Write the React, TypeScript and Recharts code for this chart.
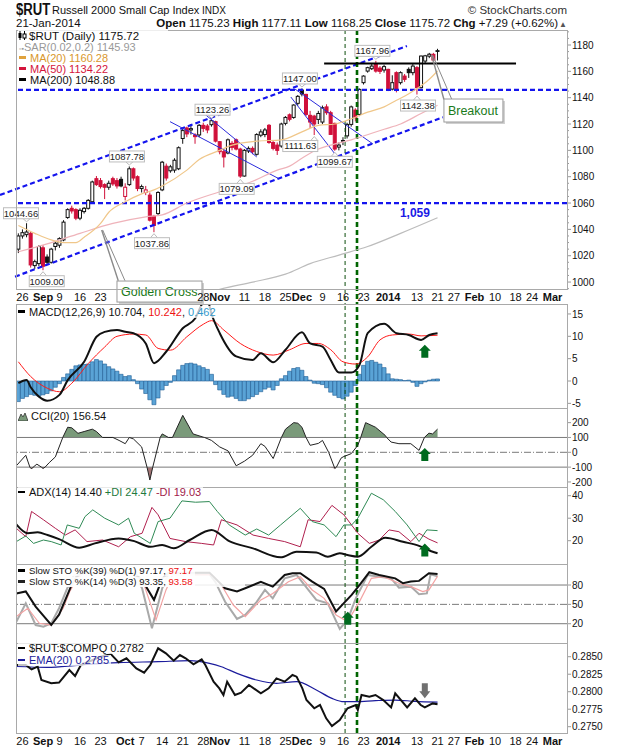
import React from 'react';
import {
  ComposedChart,
  Bar,
  Line,
  Area,
  XAxis,
  YAxis,
  ReferenceLine,
  ReferenceDot,
} from 'recharts';

const FONT = '"Liberation Sans", Arial, Helvetica, sans-serif';
const CHART_W = 620;
const PLOT_LEFT = 16;
const AXIS_W = 53;
const X_DOMAIN: [number, number] = [-1.58, 132.5];

// trading-day index: 0 = 26 Aug 2013 ... 101 = 21 Jan 2014
const firstIndex = -1;
const opens = [
  1025, 1035, 1036, 1037, 1012.5, 1014, 1026, 1019, 1015, 1027, 1028,
  1032, 1049, 1056, 1055, 1048.5, 1053.5, 1056, 1061, 1078.5, 1077,
  1074, 1072, 1078.5, 1077, 1078, 1065, 1074, 1086, 1080, 1071,
  1068, 1066, 1050, 1052, 1070, 1088, 1084.5, 1085, 1086, 1109,
  1117, 1115.5, 1111.7, 1111.7, 1119, 1118.5, 1119.5, 1121.8, 1106.6, 1099,
  1098, 1105.3, 1108, 1101, 1080.5, 1099.5, 1101.5, 1097, 1111.5, 1112,
  1119, 1106, 1104, 1103.3, 1120.5, 1127, 1125, 1135.7, 1145.8, 1142.5,
  1126.6, 1126, 1123.5, 1121.5, 1133, 1128.6, 1120.5, 1102.5, 1107.5, 1111,
  1119.7, 1130.6, 1127.3, 1151.4, 1160.2, 1162, 1165.3, 1162.5, 1161, 1161.5,
  1146.5, 1159, 1151.4, 1156.4, 1161.5, 1159, 1162.8, 1147.6, 1167.8, 1171.5,
  1172.9, 1175.23,
];
const highs = [
  1037, 1040, 1044.66, 1038, 1017, 1028, 1028, 1021, 1026, 1031, 1034,
  1047, 1056, 1058, 1056, 1056, 1057, 1063, 1077, 1080.5, 1079,
  1075, 1077, 1080, 1079, 1080, 1075, 1087.78, 1087, 1081, 1074,
  1073, 1068, 1051, 1069, 1092, 1090, 1089, 1094, 1103, 1117,
  1118, 1120, 1113, 1120, 1121, 1120, 1123.26, 1122.5, 1107, 1101,
  1109, 1107, 1109, 1102, 1101, 1103, 1103, 1113, 1116, 1117,
  1120, 1107, 1106, 1121, 1126, 1128, 1135, 1142, 1147, 1143,
  1130, 1127, 1130, 1134, 1135, 1130, 1121, 1106, 1110, 1121,
  1134, 1132, 1147, 1157, 1163.5, 1166, 1167.96, 1164, 1165, 1162,
  1157, 1160, 1160, 1158, 1163, 1166, 1164, 1172, 1172.5, 1174,
  1174, 1177.11,
];
const lows = [
  1022, 1033, 1034, 1011, 1010, 1012, 1009, 1013, 1014, 1024, 1026,
  1031, 1048, 1052, 1047, 1047, 1052, 1055, 1060, 1073, 1071,
  1063, 1070, 1073, 1071, 1072, 1062, 1073, 1077, 1069, 1068,
  1066, 1046, 1037.86, 1051, 1069, 1077, 1083, 1083, 1085, 1105,
  1110, 1112, 1105, 1110, 1114, 1113, 1118, 1106, 1097, 1087,
  1097, 1100, 1100, 1079.09, 1080, 1098, 1097, 1096, 1110, 1110,
  1105, 1100, 1096.5, 1102, 1119, 1122, 1124, 1134, 1141, 1126,
  1117, 1111.63, 1120, 1120, 1127, 1112, 1099.67, 1100, 1104, 1109,
  1118, 1122, 1126, 1150, 1159, 1161, 1159, 1158, 1159, 1145,
  1145.5, 1144, 1150, 1152, 1155, 1157, 1142.38, 1147, 1166, 1170,
  1166, 1168.25,
];
const closes = [
  1035, 1037.5, 1038, 1013, 1015.5, 1027, 1012, 1015, 1025, 1029.5, 1033,
  1045.5, 1055, 1054, 1048.5, 1054.5, 1056, 1062, 1076, 1074, 1072.5,
  1072, 1075, 1074.5, 1073, 1073, 1072, 1086, 1079, 1071, 1072.5,
  1070, 1047, 1043, 1068, 1091, 1079, 1087.5, 1092.5, 1102, 1115,
  1112.5, 1116.5, 1110.4, 1119, 1116.7, 1115.5, 1122.5, 1107, 1099, 1095,
  1108, 1102.3, 1101, 1080.5, 1100, 1101.5, 1099, 1112, 1114, 1115.5,
  1106, 1101.5, 1100, 1120, 1125, 1123.6, 1134.4, 1141, 1142.8, 1127.3,
  1121.5, 1120, 1128, 1132.4, 1128.6, 1112.1, 1101, 1104, 1107, 1119.7,
  1133, 1124.8, 1146.3, 1156.4, 1162.8, 1164, 1160.2, 1160, 1163.6, 1146.3,
  1151.4, 1146.3, 1159, 1153.9, 1159, 1164, 1147.6, 1171.6, 1171.8, 1173,
  1168.6, 1175.72,
];

const ma20Points: [number, number][] = [
  [-1, 1043], [3, 1037], [7, 1032], [10, 1030], [13, 1030], [15, 1034], [19, 1044.5],
  [21, 1053], [25, 1061], [29, 1067], [32, 1070], [34, 1073], [40, 1085], [43, 1093],
  [48, 1100], [51, 1104], [57, 1107], [63, 1108], [68, 1114], [72, 1119], [76, 1120],
  [80, 1124], [84, 1129], [88, 1133], [91, 1138], [94, 1143], [97, 1149], [99, 1154],
  [101, 1160.28],
];
const ma50Points: [number, number][] = [
  [-1, 1023], [6, 1029], [14, 1037], [22, 1044.5], [30, 1049.5], [34, 1051], [40, 1060],
  [48, 1068.6], [56, 1076.5], [62, 1085], [65, 1088], [68, 1094], [72, 1101], [75, 1104],
  [80, 1108], [85, 1113], [88, 1116], [92, 1120], [97, 1128], [101, 1134.22],
];
const ma200Points: [number, number][] = [
  [44, 991], [48, 994.5], [56, 1000], [64, 1006], [70, 1014], [77, 1020.5], [84, 1027],
  [92, 1037], [101, 1048.88],
];

const macdHist = [
  -4.6, -3.9, -3.5, -3.0, -3.2, -3.4, -3.1, -2.8, -2.2, -1.4, -0.6,
  0.8, 1.6, 2.6, 3.4, 3.6, 3.7, 3.8, 4.3, 4.8, 4.5,
  3.8, 3.2, 2.7, 2.2, 1.5, 1.0, 1.2, 0.3, -0.6, -1.8,
  -2.8, -4.2, -5.3, -3.8, -2.0, -1.0, -0.3, 1.2, 2.5, 3.5,
  3.9, 4.0, 3.8, 3.4, 3.0, 2.6, 1.5, -0.8, -2.0, -3.0,
  -3.6, -3.4, -3.9, -4.4, -4.4, -4.0, -3.5, -3.0, -2.4, -1.8,
  -1.4, -2.0, -1.0, 0.5, 1.2, 2.2, 2.8, 3.0, 2.4, 1.0,
  0.2, -0.5, -0.6, -0.8, -1.5, -2.5, -3.2, -3.7, -4.0, -3.4,
  -2.5, -1.0, 1.5, 3.5, 4.4, 4.6, 4.2, 3.8, 3.0, 1.6,
  0.5, 0.4, 0.3, 0.1, 0.2, -0.3, -1.2, -0.6, -0.2, 0.2,
  0.4, 0.462,
];
const macdPoints: [number, number][] = [
  [-1, -0.5], [1, 0.2], [2, -1.4], [4, -3.5], [6, -4.4], [9, -3.1], [11, 0.2], [15, 4.3],
  [18, 9.9], [20, 11.0], [23, 11.4], [25, 11.0], [27, 10.7], [30, 8.4], [32, 4.0], [35, 6.6],
  [39, 11.8], [42, 14.0], [44, 17.6], [45, 18.0], [46, 15.0], [48, 10.7], [52, 5.5], [56, 4.7],
  [58, 6.2], [61, 4.2], [64, 7.0], [68, 10.9], [70, 8.4], [73, 7.7], [75, 4.7], [77, 1.9],
  [80, 1.9], [82, 3.6], [84, 10.7], [88, 12.8], [91, 10.7], [94, 10.3], [97, 9.2], [99, 10.3],
  [101, 10.704],
];
const signalPoints: [number, number][] = [
  [-1, 4.3], [2, 1.0], [6, -1.6], [9, -2.4], [12, -0.5], [16, 3.9], [20, 7.6], [23, 10.0],
  [27, 10.5], [30, 10.3], [33, 7.3], [36, 6.9], [40, 9.9], [44, 12.7], [46, 13.5], [49, 11.4],
  [53, 8.4], [57, 6.6], [61, 5.8], [65, 7.0], [69, 8.4], [72, 8.4], [75, 7.0], [78, 4.3],
  [81, 3.8], [84, 5.4], [87, 9.2], [90, 10.3], [94, 10.5], [97, 10.1], [101, 10.242],
];

const cciPoints: [number, number][] = [
  [-1.5, -91], [0.8, -20], [1.8, -100], [2.2, -112], [2.6, -100], [3.5, -80], [4.6, -100],
  [5, -109], [5.5, -100], [6.5, -70], [8, -31], [9.8, 100], [11, 169], [12, 165], [13.5, 128],
  [15, 140], [17, 156], [18, 140], [19.5, 100], [22, 100], [23.5, 80], [25, 58], [26, 100],
  [27, 90], [29, 36], [30.3, -100], [31, -187], [31.7, -100], [33.5, 100], [34, 124],
  [35.5, 100], [36.5, 100], [39, 249], [41.5, 124], [44, 102], [44.3, 100], [46, 80], [48, 36],
  [50, 10], [52, -91], [54, -60], [56, -20], [58, 58], [59, 40], [61, -42], [63, 100],
  [64, 156], [66, 200], [67, 196], [68, 169], [69, 100], [70, 47], [72, 60], [73, 80],
  [74.5, 0], [76, -109], [76.4, -100], [77.5, -40], [78, -31], [80, -9], [81.6, 47],
  [82.3, 100], [83.5, 200], [85.9, 169], [88.3, 113], [88.6, 100], [89.7, 69], [91.6, 58],
  [94.5, 58], [96.5, 13], [97.8, 100], [98.9, 129], [99.8, 124], [101, 156.54],
];

const adxPoints: [number, number][] = [
  [-1.5, 27.3], [1.3, 23.3], [3.7, 23.7], [6.1, 22.5], [8.9, 20.7], [13.8, 16.9], [17.6, 18.8],
  [23.4, 21], [27.2, 19.8], [31.1, 17.3], [34, 18.1], [36.8, 16.6], [40.7, 20.3], [46, 24.8],
  [50.3, 19.8], [56.1, 16.6], [62.8, 12.6], [66.7, 15.1], [71.5, 14.8], [74.3, 12.9],
  [77.2, 14.4], [79.1, 13.6], [81.6, 12.9], [84.9, 17.3], [88.3, 21.3], [92.6, 19.5],
  [96.5, 17.7], [99.3, 15.4], [101, 14.4],
];
const plusDiPoints: [number, number][] = [
  [-1.5, 19.6], [0.8, 22.1], [2.7, 18.8], [5.1, 20.3], [7, 19.6], [9.4, 18.1], [10.9, 27],
  [13.8, 25.5], [15.2, 30.7], [17.1, 33.7], [20, 30], [23.4, 27], [25.8, 30], [27.2, 23.3],
  [31.1, 18.8], [33, 28.5], [35.9, 30], [38.8, 37.7], [42.1, 37.1], [45.5, 37.4], [47.4, 33],
  [50.3, 27], [54.2, 22.5], [57, 25.2], [59.9, 22.5], [62.8, 27], [67.6, 34.4], [70.5, 28.5],
  [73.4, 27], [76.3, 21.8], [78.2, 27], [80.1, 27], [81.6, 30], [84.9, 41.1], [87.8, 38.2],
  [90.7, 33], [93.6, 27], [96.5, 19.6], [98.4, 24.8], [101, 24.47],
];
const minusDiPoints: [number, number][] = [
  [-1.5, 25.5], [0.8, 21.8], [2.2, 33], [5.1, 29.3], [8, 25.5], [10.4, 22.5], [12.8, 24.8],
  [15.7, 19.6], [19.5, 20.3], [23.4, 17.3], [26.3, 21.8], [29.1, 23.3], [31.5, 34.8], [33, 31.5],
  [35.9, 21], [39.7, 19.6], [43.6, 18.8], [46.5, 18.1], [48.4, 29.3], [52.2, 27], [56.1, 22.5],
  [59.9, 21], [63.8, 19.6], [67.6, 17.3], [69.5, 29.3], [72.4, 28.5], [75.3, 35.7], [78.2, 31.5],
  [81.6, 23.3], [84.4, 18.8], [86.8, 20.3], [89.2, 24.8], [91.6, 24], [94.5, 19.6], [96.5, 23.3],
  [98.9, 20.7], [101, 19.03],
];

const stoK39Points: [number, number][] = [
  [-1.5, 67], [0.8, 70], [3.2, 46.5], [7, 18], [8.9, 34], [11.8, 78], [13, 92], [14.5, 99],
  [27, 99], [29.1, 88], [32, 57], [34, 90], [35.5, 99], [45.5, 99], [46.5, 93], [49.3, 75],
  [52.2, 70], [54.2, 75], [58, 85], [60.9, 77.5], [63.8, 95.6], [65.7, 98.2], [67.6, 98.2],
  [70.5, 85.3], [73.4, 74], [76.3, 39], [78.2, 52], [80.1, 64.6], [82, 80], [84.4, 99.8],
  [86.8, 95.6], [90.7, 90.4], [92.6, 82.7], [94.5, 85.3], [96.5, 86.4], [98.9, 98.2],
  [101, 97.17],
];
const stoK14Points: [number, number][] = [
  [-1.5, 23], [0.8, 51.5], [3.2, 18], [5.1, 15.5], [7, 20.7], [8.9, 44], [10.9, 75],
  [12.5, 95], [14, 99], [27, 98], [29.1, 75], [31.5, 13], [34, 75], [35.5, 97], [45.5, 97],
  [46.9, 85], [49.3, 54], [52.2, 27.4], [54.2, 33.6], [57, 54], [59, 72.4], [60.9, 59.4],
  [63.8, 90.4], [66.7, 95.6], [68.6, 80.2], [71.5, 57], [74.3, 51.7], [77.2, 12], [79.1, 25.8],
  [81.1, 59.4], [84, 95.6], [86.8, 93], [89.7, 90.4], [91.6, 76], [94.5, 77.5], [96.5, 65.6],
  [98.4, 67], [99.3, 96.6], [101, 93.35],
];
const stoD3Points: [number, number][] = [
  [-1.5, 31], [1.3, 44], [4.1, 20.7], [7, 18], [9.9, 44], [11.5, 70], [13.5, 92], [15, 98],
  [27, 97], [29.6, 80], [32.5, 26], [34.9, 72], [36.5, 95], [46, 96], [48.4, 80], [51.3, 49],
  [54.2, 31], [58, 57], [60.9, 67], [64.7, 85], [67.6, 93], [70.5, 72.4], [73.4, 59.4],
  [76.3, 33.6], [79.1, 23.3], [82, 54.3], [84.9, 90.4], [87.8, 93], [91.6, 82.7], [94.5, 77.5],
  [97.4, 69.7], [98.9, 72.4], [101, 93.58],
];

const ratioPoints: [number, number][] = [
  [-1.5, 0.2838], [0.8, 0.28381], [2.2, 0.2832], [3.7, 0.28358], [4.6, 0.28167], [7, 0.2812],
  [8.9, 0.2813], [11.4, 0.2831], [12.8, 0.28224], [14.2, 0.28381], [17.1, 0.28453], [19, 0.285],
  [21.5, 0.28538], [23.4, 0.28419], [25.3, 0.28477], [27.7, 0.28334], [29.6, 0.28272],
  [31.1, 0.28381], [33, 0.2862], [34.9, 0.28548], [36.8, 0.28443], [38.3, 0.28524],
  [39.7, 0.28477], [41.6, 0.28391], [43.6, 0.28462], [44.5, 0.28381], [46.5, 0.28143],
  [47.9, 0.28048], [48.9, 0.27953], [49.8, 0.28143], [51.7, 0.27953], [53.2, 0.27986],
  [55.1, 0.28096], [58, 0.27976], [59.9, 0.28048], [61.8, 0.28191], [63.8, 0.28143],
  [65.7, 0.28239], [66.7, 0.28215], [68.1, 0.28048], [69.1, 0.27881], [71, 0.27763],
  [72.4, 0.2781], [73.9, 0.2762], [75.3, 0.2751], [77.2, 0.27596], [79.1, 0.27763],
  [81.1, 0.2781], [81.6, 0.27739], [82.5, 0.27953], [84.4, 0.27929], [85.9, 0.27953],
  [87.8, 0.27881], [89.7, 0.27776], [90.7, 0.27976], [93.6, 0.27776], [95.5, 0.27905],
  [96.9, 0.2781], [97.9, 0.27776], [99.8, 0.27833], [101, 0.2782],
];
const ratioEmaPoints: [number, number][] = [
  [-1.5, 0.2836], [6.1, 0.28348], [13.8, 0.28381], [23.4, 0.28415], [33, 0.28429],
  [40.7, 0.28443], [45.5, 0.28405], [48.4, 0.28357], [52.2, 0.28262], [57, 0.28167],
  [61.8, 0.2812], [66.7, 0.28143], [71.5, 0.28024], [75.3, 0.27905], [78.2, 0.27857],
  [81.1, 0.27857], [85.9, 0.27872], [90.7, 0.27881], [95.5, 0.27862], [101, 0.2785],
];

const xTickIdx = [0, 5, 9, 14, 19, 25, 29, 34, 39, 44, 48, 54, 59, 64, 68, 73, 78, 83, 89, 96, 101, 105, 110, 115, 120, 124, 129];
const xTickText = ['26', 'Sep', '9', '16', '23', 'Oct', '7', '14', '21', '28', 'Nov', '11', '18', '25', 'Dec', '9', '16', '23', '2014', '13', '21', '27', 'Feb', '10', '18', '24', 'Mar'];
const xTickBold = ['Sep', 'Oct', 'Nov', 'Dec', '2014', 'Feb', 'Mar'];
const mainHiddenTicks = [25, 29, 34, 39];

const priceLabelTicks = [1000, 1020, 1040, 1060, 1080, 1100, 1120, 1140, 1160, 1180];
const priceMinorTicks = Array.from({ length: 40 }, (_, k) => 995 + k * 5);
const macdTicks = [-5, 0, 5, 10, 15];
const cciTicks = [-200, -100, 0, 100, 200];
const adxTicks = [20, 30, 40];
const stoTicks = [20, 50, 80];
const ratioTicks = [0.275, 0.2775, 0.28, 0.2825, 0.285];

const priceLabels = [
  { i: 1, v: 1044.66, t: '1044.66', dx: -5.6, dy: -10 },
  { i: 5, v: 1009.0, t: '1009.00', dx: 3.7, dy: 11 },
  { i: 26, v: 1087.78, t: '1087.78', dx: -2.4, dy: -10 },
  { i: 32, v: 1037.86, t: '1037.86', dx: -2, dy: 11 },
  { i: 46, v: 1123.26, t: '1123.26', dx: 1, dy: -10 },
  { i: 53, v: 1079.09, t: '1079.09', dx: -3.6, dy: 11 },
  { i: 68, v: 1147.0, t: '1147.00', dx: -2, dy: -10 },
  { i: 71, v: 1111.63, t: '1111.63', dx: -14, dy: 11 },
  { i: 76, v: 1099.67, t: '1099.67', dx: 0, dy: 11 },
  { i: 86, v: 1167.96, t: '1167.96', dx: -3.5, dy: -10 },
  { i: 96, v: 1142.38, t: '1142.38', dx: 1, dy: 11 },
];

// ---------- tables built for the library ----------
const toMap = (pts: [number, number][]) => new Map(pts.map(([i, v]) => [i, v]));
const ma20Map = toMap(ma20Points);
const ma50Map = toMap(ma50Points);
const ma200Map = toMap(ma200Points);
const macdMap = toMap(macdPoints);
const signalMap = toMap(signalPoints);

const mainRows = opens.map((o, k) => {
  const i = firstIndex + k;
  return {
    i,
    o,
    h: highs[k],
    l: lows[k],
    c: closes[k],
    pc: k > 0 ? closes[k - 1] : closes[k],
    range: [lows[k], highs[k]],
    ma20: ma20Map.get(i),
    ma50: ma50Map.get(i),
    ma200: ma200Map.get(i),
  };
});

const macdRows = macdHist.map((h, k) => {
  const i = firstIndex + k;
  return { i, hist: h, macd: macdMap.get(i), signal: signalMap.get(i) };
});

function mergeSeries(series: Record<string, [number, number][]>) {
  const map = new Map<number, any>();
  Object.entries(series).forEach(([key, pts]) => {
    pts.forEach(([i, v]) => {
      const row = map.get(i) || { i };
      row[key] = v;
      map.set(i, row);
    });
  });
  return Array.from(map.values()).sort((a, b) => a.i - b.i);
}

const cciRows = cciPoints.map(([i, v]) => ({
  i,
  cci: v,
  up: [100, Math.max(v, 100)],
  dn: [Math.min(v, -100), -100],
}));
const adxRows = mergeSeries({ adx: adxPoints, pdi: plusDiPoints, mdi: minusDiPoints });
const stoRows = mergeSeries({ k39: stoK39Points, k14: stoK14Points, d3: stoD3Points });
const ratioRows = mergeSeries({ ratio: ratioPoints, ema: ratioEmaPoints });

// ---------- renderers ----------
function makeYTick(labels: number[], fmt: (v: number) => string) {
  return (props: any) => {
    const { x, y, payload } = props;
    const v = payload.value as number;
    const major = labels.some((l) => Math.abs(l - v) < 1e-9);
    return (
      <g>
        <line x1={x} x2={x + (major ? 4 : 2)} y1={y} y2={y} stroke="#9a9a9a" strokeWidth={1} />
        {major ? (
          <text x={x + 5} y={y} dy={3.6} fontSize={10} fontFamily={FONT} fill="#111">
            {fmt(v)}
          </text>
        ) : null}
      </g>
    );
  };
}

const renderXTick = (props: any) => {
  const { x, y, payload } = props;
  const k = xTickIdx.indexOf(payload.value);
  const t = k >= 0 ? xTickText[k] : '';
  const bold = xTickBold.includes(t);
  return (
    <text x={x} y={y} dy={12} textAnchor="middle" fontSize={11} fontWeight={bold ? 'bold' : 'normal'} fontFamily={FONT} fill="#111">
      {t}
    </text>
  );
};

const renderCandle = (props: any) => {
  const { x, y, width, height, payload } = props;
  if (!payload) return null;
  const { o, h, l, c, pc } = payload;
  const top0 = Math.min(y, y + height);
  const hh = Math.abs(height);
  const span = h - l || 1;
  const yOf = (v: number) => top0 + ((h - v) / span) * hh;
  const color = c >= pc ? '#111111' : '#d0103a';
  const hollow = c > o;
  const cx = x + width / 2;
  const bt = yOf(Math.max(o, c));
  const bb = yOf(Math.min(o, c));
  return (
    <g>
      <line x1={cx} x2={cx} y1={top0} y2={top0 + hh} stroke={color} strokeWidth={1} />
      <rect x={cx - 1.5} y={bt} width={3} height={Math.max(bb - bt, 0.8)} fill={hollow ? '#ffffff' : color} stroke={color} strokeWidth={1} />
    </g>
  );
};

const priceLabelShape = (text: string, dx: number, dy: number) => (props: any) => {
  const { cx, cy } = props;
  const w = 35;
  const h = 11;
  const bx = cx + dx - w / 2;
  const by = cy + dy - h / 2;
  const above = dy < 0;
  const tipY = above ? cy - 1.5 : cy + 1.5;
  const baseY = above ? by + h : by;
  return (
    <g>
      <path d={`M${cx - 3.5},${baseY} L${cx},${tipY} L${cx + 3.5},${baseY}`} fill="#fff" stroke="#aaa" strokeWidth={0.8} />
      <rect x={bx} y={by} width={w} height={h} fill="#fff" stroke="#bdbdbd" strokeWidth={1} />
      <text x={cx + dx} y={cy + dy} dy={3.4} textAnchor="middle" fontSize={9.5} fontFamily={FONT} fill="#222">
        {text}
      </text>
    </g>
  );
};

const calloutShape = (text: string, l1: [number, number], l2: [number, number], box: [number, number, number, number]) => (props: any) => {
  const { cx, cy } = props;
  const [bx, by, bw, bh] = box;
  return (
    <g>
      <line x1={cx} y1={cy} x2={cx + l1[0]} y2={cy + l1[1]} stroke="#8a8a8a" strokeWidth={1.4} />
      <line x1={cx + 1} y1={cy} x2={cx + l2[0]} y2={cy + l2[1]} stroke="#8a8a8a" strokeWidth={1} />
      <rect x={cx + bx + 2} y={cy + by + 2} width={bw} height={bh} fill="#cfcfcf" />
      <rect x={cx + bx} y={cy + by} width={bw} height={bh} fill="#fff" stroke="#9a9a9a" strokeWidth={1} />
      <text x={cx + bx + 4} y={cy + by + bh / 2} dy={4.3} fontSize={12.5} fontFamily={FONT} fill="#1a7a1a">
        {text}
      </text>
    </g>
  );
};

const textShape = (text: string) => (props: any) => (
  <text x={props.cx} y={props.cy} dy={4} textAnchor="middle" fontSize={12} fontWeight="bold" fontFamily={FONT} fill="#1a1ae6">
    {text}
  </text>
);

const upArrowShape = (props: any) => {
  const { cx, cy } = props;
  return (
    <path
      d={`M${cx},${cy - 6.5} L${cx + 6},${cy - 0.5} L${cx + 3.5},${cy - 0.5} L${cx + 3.5},${cy + 6.5} L${cx - 3.5},${cy + 6.5} L${cx - 3.5},${cy - 0.5} L${cx - 6},${cy - 0.5} Z`}
      fill="#006b1f"
    />
  );
};
const downArrowShape = (props: any) => {
  const { cx, cy } = props;
  return (
    <path
      d={`M${cx - 3},${cy - 7.5} L${cx + 3},${cy - 7.5} L${cx + 3},${cy + 0.5} L${cx + 5.5},${cy + 0.5} L${cx},${cy + 7.5} L${cx - 5.5},${cy + 0.5} L${cx - 3},${cy + 0.5} Z`}
      fill="#707070"
    />
  );
};

const BLUE = '#1414ee';
const vLines = (extendTo?: [number, number]) => [
  extendTo ? (
    <ReferenceLine key="v1" segment={[{ x: 78.5, y: extendTo[0] }, { x: 78.5, y: extendTo[1] }]} stroke="#0b4d0b" strokeWidth={1} strokeDasharray="4 3" ifOverflow="visible" />
  ) : (
    <ReferenceLine key="v1" x={78.5} stroke="#0b4d0b" strokeWidth={1} strokeDasharray="4 3" />
  ),
  extendTo ? (
    <ReferenceLine key="v2" segment={[{ x: 81.4, y: extendTo[0] }, { x: 81.4, y: extendTo[1] }]} stroke="#006400" strokeWidth={2.6} strokeDasharray="5 3" ifOverflow="visible" />
  ) : (
    <ReferenceLine key="v2" x={81.4} stroke="#006400" strokeWidth={2.6} strokeDasharray="5 3" />
  ),
];

const hiddenX = <XAxis dataKey="i" type="number" domain={X_DOMAIN} allowDataOverflow hide />;

const yAxisProps = (domain: [number, number], ticks: number[], labels: number[], fmt: (v: number) => string) => ({
  orientation: 'right' as const,
  type: 'number' as const,
  domain,
  allowDataOverflow: true,
  ticks,
  interval: 0 as const,
  width: AXIS_W,
  axisLine: false,
  tickLine: false,
  tickSize: 0,
  tickMargin: 0,
  tick: makeYTick(labels, fmt),
});

const Abs = ({ left, top, children, style }: any) => (
  <div style={{ position: 'absolute', left, top, whiteSpace: 'nowrap', ...style }}>{children}</div>
);

const Dash = ({ color, w = 7 }: { color: string; w?: number }) => (
  <span style={{ display: 'inline-block', width: w, height: 2.5, background: color, verticalAlign: 'middle', marginRight: 4, marginTop: -2 }} />
);

const LegendRow = ({ left, cy, h = 12, fs = 11, children }: any) => (
  <div
    style={{
      position: 'absolute',
      left,
      top: cy - h / 2,
      height: h,
      lineHeight: `${h}px`,
      fontSize: fs,
      fontFamily: FONT,
      whiteSpace: 'nowrap',
      background: 'rgba(255,255,255,0.75)',
      paddingRight: 2,
    }}
  >
    {children}
  </div>
);

const PanelBorder = ({ top, height }: { top: number; height: number }) => (
  <div
    style={{
      position: 'absolute',
      left: PLOT_LEFT,
      top,
      width: CHART_W - PLOT_LEFT - AXIS_W + 1,
      height: height + 1,
      border: '1px solid #a9a9a9',
      boxSizing: 'border-box',
      pointerEvents: 'none',
    }}
  />
);

export default function App() {
  const margin = { top: 0, right: 0, bottom: 0, left: PLOT_LEFT };
  return (
    <div style={{ position: 'absolute', left: 0, top: 0, width: 620, height: 750, background: '#fff', overflow: 'hidden', fontFamily: FONT, color: '#111' }}>
      {/* header */}
      <Abs left={16} top={1} style={{ fontSize: 16, fontWeight: 'bold', transform: 'scaleX(0.82)', transformOrigin: 'left top', lineHeight: '18px' }}>
        $RUT
      </Abs>
      <Abs left={52} top={4} style={{ fontSize: 11, lineHeight: '13px' }}>Russell 2000 Small Cap Index</Abs>
      <Abs left={202} top={5} style={{ fontSize: 10, lineHeight: '12px' }}>INDX</Abs>
      <Abs left={380} top={4} style={{ fontSize: 11.5, lineHeight: '13px', width: 187, textAlign: 'right', color: '#333' }}>
        © StockCharts.com
      </Abs>
      <Abs left={16} top={17} style={{ fontSize: 11.5, lineHeight: '13px' }}>21-Jan-2014</Abs>
      <Abs left={120} top={17} style={{ fontSize: 11.5, lineHeight: '13px', width: 447, textAlign: 'right' }}>
        <b>Open</b> 1175.23 <b>High</b> 1177.11 <b>Low</b> 1168.25 <b>Close</b> 1175.72 <b>Chg</b> +7.29 (+0.62%)
        <span style={{ fontSize: 8, color: '#555', marginLeft: 1 }}>▲</span>
      </Abs>

      {/* main price panel */}
      <div style={{ position: 'absolute', left: 0, top: 30 }}>
        <ComposedChart width={CHART_W} height={275} data={mainRows} margin={margin}>
          <XAxis
            dataKey="i"
            type="number"
            domain={X_DOMAIN}
            allowDataOverflow
            ticks={xTickIdx.filter((t) => !mainHiddenTicks.includes(t))}
            interval={0}
            tick={renderXTick}
            tickLine={false}
            axisLine={false}
            tickSize={0}
            tickMargin={0}
            height={16}
          />
          <YAxis {...yAxisProps([994.73, 1191.39], priceMinorTicks, priceLabelTicks, (v) => String(v))} />
          <ReferenceLine y={1146} stroke={BLUE} strokeWidth={2.2} strokeDasharray="5 3" />
          <ReferenceLine y={1060} stroke={BLUE} strokeWidth={2.2} strokeDasharray="5 3" />
          <ReferenceLine segment={[{ x: -5.47, y: 1066.1 }, { x: 93.55, y: 1179.2 }]} stroke={BLUE} strokeWidth={2.2} strokeDasharray="5 3" ifOverflow="visible" />
          <ReferenceLine segment={[{ x: -1.82, y: 1004.1 }, { x: 102.3, y: 1125.1 }]} stroke={BLUE} strokeWidth={2.2} strokeDasharray="5 3" ifOverflow="visible" />
          <ReferenceLine segment={[{ x: 35.9, y: 1121.8 }, { x: 62.2, y: 1078.8 }]} stroke="#2b2bdc" strokeWidth={1} ifOverflow="visible" />
          <ReferenceLine segment={[{ x: 43, y: 1131 }, { x: 57, y: 1095 }]} stroke="#2b2bdc" strokeWidth={1} ifOverflow="visible" />
          <ReferenceLine segment={[{ x: 66.3, y: 1146.6 }, { x: 85.3, y: 1104.8 }]} stroke="#2b2bdc" strokeWidth={1} ifOverflow="visible" />
          <ReferenceLine segment={[{ x: 65.3, y: 1140.5 }, { x: 76.8, y: 1094.2 }]} stroke="#2b2bdc" strokeWidth={1} ifOverflow="visible" />
          {vLines([1191.39, 983.3])}
          <Line dataKey="ma200" stroke="#bcbcbc" strokeWidth={1.2} dot={false} connectNulls type="monotone" isAnimationActive={false} />
          <Line dataKey="ma50" stroke="#efb3ba" strokeWidth={1.2} dot={false} connectNulls type="monotone" isAnimationActive={false} />
          <Line dataKey="ma20" stroke="#f0c78a" strokeWidth={1.2} dot={false} connectNulls type="monotone" isAnimationActive={false} />
          <Bar dataKey="range" barSize={4} shape={renderCandle} isAnimationActive={false} />
          <ReferenceLine segment={[{ x: 73.4, y: 1166 }, { x: 120.1, y: 1166 }]} stroke="#000" strokeWidth={2} ifOverflow="visible" />
          {priceLabels.map((p) => (
            <ReferenceDot key={p.t} x={p.i} y={p.v} r={1} ifOverflow="visible" shape={priceLabelShape(p.t, p.dx, p.dy)} />
          ))}
          <ReferenceDot x={95.5} y={1052.4} r={1} ifOverflow="visible" shape={textShape('1,059')} />
          <ReferenceDot x={19.27} y={1039.5} r={1} ifOverflow="visible" shape={calloutShape('Golden Cross', [16.6, 50.7], [23.3, 50.7], [15.3, 51, 85, 21])} />
          <ReferenceDot x={99.56} y={1172.4} r={1} ifOverflow="visible" shape={calloutShape('Breakout', [12.3, 44.5], [20, 44], [12.3, 44, 59, 23])} />
        </ComposedChart>
      </div>
      <PanelBorder top={30} height={259} />
      <div style={{ position: 'absolute', left: 18, top: 30, width: 150, height: 56, background: 'rgba(255,255,255,0.8)' }} />
      <LegendRow left={18} cy={36} h={11}>
        <svg width={9} height={9} style={{ verticalAlign: 'middle', marginRight: 2, marginTop: -2 }}>
          <line x1={2} x2={2} y1={0} y2={9} stroke="#000" />
          <rect x={0.5} y={2} width={3} height={5} fill="#000" />
          <line x1={6.5} x2={6.5} y1={0} y2={9} stroke="#000" />
          <rect x={5} y={3} width={3} height={4} fill="#fff" stroke="#000" />
        </svg>
        <span style={{ fontSize: 11.5 }}>$RUT (Daily) 1175.72</span>
      </LegendRow>
      <LegendRow left={19} cy={47} h={11}>
        <span style={{ color: '#999' }}>
          <span style={{ fontSize: 7 }}>▫▪</span>SAR(0.02,0.2) 1145.93
        </span>
      </LegendRow>
      <LegendRow left={19} cy={58} h={11}>
        <Dash color="#e0a23c" />
        <span style={{ color: '#d9972c' }}>MA(20) 1160.28</span>
      </LegendRow>
      <LegendRow left={19} cy={69} h={11}>
        <Dash color="#d4143c" />
        <span style={{ color: '#d4143c' }}>MA(50) 1134.22</span>
      </LegendRow>
      <LegendRow left={19} cy={80} h={11}>
        <Dash color="#000" />
        <span>MA(200) 1048.88</span>
      </LegendRow>

      {/* MACD */}
      <div style={{ position: 'absolute', left: 0, top: 304 }}>
        <ComposedChart width={CHART_W} height={104} data={macdRows} margin={margin}>
          {hiddenX}
          <YAxis {...yAxisProps([-6.04, 17.23], macdTicks, macdTicks, (v) => String(v))} />
          <Bar dataKey="hist" barSize={4} fill="#5aa3d6" stroke="#1f5c93" strokeWidth={0.6} isAnimationActive={false} />
          {vLines()}
          <Line dataKey="signal" stroke="#ff1a1a" strokeWidth={1} dot={false} connectNulls type="monotone" isAnimationActive={false} />
          <Line dataKey="macd" stroke="#111" strokeWidth={2} dot={false} connectNulls type="monotone" isAnimationActive={false} />
          <ReferenceDot x={97.9} y={6.67} r={1} ifOverflow="visible" shape={upArrowShape} />
        </ComposedChart>
      </div>
      <PanelBorder top={304} height={104} />
      <LegendRow left={18} cy={311.5}>
        <Dash color="#000" />
        MACD(12,26,9) 10.704, <span style={{ color: '#ee1111' }}>10.242</span>, <span style={{ color: '#3399cc' }}>0.462</span>
      </LegendRow>

      {/* CCI */}
      <div style={{ position: 'absolute', left: 0, top: 408 }}>
        <ComposedChart width={CHART_W} height={79} data={cciRows} margin={margin}>
          {hiddenX}
          <YAxis {...yAxisProps([-234, 298.7], cciTicks, cciTicks, (v) => String(v))} />
          <ReferenceLine y={100} stroke="#7a7a7a" strokeWidth={1} />
          <ReferenceLine y={-100} stroke="#7a7a7a" strokeWidth={1} />
          <ReferenceLine y={0} stroke="#7a7a7a" strokeWidth={1} strokeDasharray="7 2 1 2" />
          <Area dataKey="up" type="linear" fill="#7a9a7a" fillOpacity={1} stroke="none" isAnimationActive={false} />
          <Area dataKey="dn" type="linear" fill="#a47676" fillOpacity={1} stroke="none" isAnimationActive={false} />
          {vLines()}
          <Line dataKey="cci" type="linear" stroke="#222" strokeWidth={1} dot={false} isAnimationActive={false} />
          <ReferenceDot x={97.9} y={-15} r={1} ifOverflow="visible" shape={upArrowShape} />
        </ComposedChart>
      </div>
      <PanelBorder top={408} height={79} />
      <LegendRow left={18} cy={416}>
        <svg width={10} height={9} style={{ verticalAlign: 'middle', marginRight: 3, marginTop: -2 }}>
          <path d="M0,9 L3,2 L5,5 L7,1 L10,9 Z" fill="#7a9a7a" stroke="#333" strokeWidth={0.8} />
        </svg>
        CCI(20) 156.54
      </LegendRow>

      {/* ADX */}
      <div style={{ position: 'absolute', left: 0, top: 487 }}>
        <ComposedChart width={CHART_W} height={77} data={adxRows} margin={margin}>
          {hiddenX}
          <YAxis {...yAxisProps([9.64, 43.87], adxTicks, adxTicks, (v) => String(v))} />
          {vLines()}
          <Line dataKey="mdi" type="linear" stroke="#b0204e" strokeWidth={1} dot={false} connectNulls isAnimationActive={false} />
          <Line dataKey="pdi" type="linear" stroke="#2f8a55" strokeWidth={1} dot={false} connectNulls isAnimationActive={false} />
          <Line dataKey="adx" type="monotone" stroke="#111" strokeWidth={2} dot={false} connectNulls isAnimationActive={false} />
          <ReferenceDot x={97.9} y={15.87} r={1} ifOverflow="visible" shape={upArrowShape} />
        </ComposedChart>
      </div>
      <PanelBorder top={487} height={77} />
      <LegendRow left={18} cy={492.5} h={11}>
        <Dash color="#000" />
        ADX(14) 14.40 <span style={{ color: '#1f7a3f' }}>+DI 24.47</span> <span style={{ color: '#a0204a' }}>-DI 19.03</span>
      </LegendRow>

      {/* Slow STO */}
      <div style={{ position: 'absolute', left: 0, top: 564 }}>
        <ComposedChart width={CHART_W} height={79} data={stoRows} margin={margin}>
          {hiddenX}
          <YAxis {...yAxisProps([-9.9, 112.6], stoTicks, stoTicks, (v) => String(v))} />
          <ReferenceLine y={80} stroke="#7a7a7a" strokeWidth={1} />
          <ReferenceLine y={20} stroke="#7a7a7a" strokeWidth={1} />
          <ReferenceLine y={50} stroke="#7a7a7a" strokeWidth={1} strokeDasharray="7 2 1 2" />
          {vLines()}
          <Line dataKey="k14" type="linear" stroke="#a9a9a9" strokeWidth={2} dot={false} connectNulls isAnimationActive={false} />
          <Line dataKey="d3" type="linear" stroke="#f3a3a3" strokeWidth={1.2} dot={false} connectNulls isAnimationActive={false} />
          <Line dataKey="k39" type="linear" stroke="#111" strokeWidth={2} dot={false} connectNulls isAnimationActive={false} />
          <ReferenceDot x={79.15} y={28.4} r={1} ifOverflow="visible" shape={upArrowShape} />
        </ComposedChart>
      </div>
      <PanelBorder top={564} height={79} />
      <div style={{ position: 'absolute', left: 17, top: 565, width: 228, height: 22, background: 'rgba(255,255,255,0.85)' }} />
      <LegendRow left={18} cy={570.8} h={10} fs={9.6}>
        <Dash color="#000" />
        Slow STO %K(39) %D(1) 97.17, <span style={{ color: '#ee1111' }}>97.17</span>
      </LegendRow>
      <LegendRow left={18} cy={581.8} h={10} fs={9.6}>
        <Dash color="#222" />
        Slow STO %K(14) %D(3) 93.35, <span style={{ color: '#ee1111' }}>93.58</span>
      </LegendRow>

      {/* $RUT:$COMPQ */}
      <div style={{ position: 'absolute', left: 0, top: 643 }}>
        <ComposedChart width={CHART_W} height={107} data={ratioRows} margin={margin}>
          <XAxis
            dataKey="i"
            type="number"
            domain={X_DOMAIN}
            allowDataOverflow
            ticks={xTickIdx}
            interval={0}
            tick={renderXTick}
            tickLine={false}
            axisLine={false}
            tickSize={0}
            tickMargin={0}
            height={17}
          />
          <YAxis {...yAxisProps([0.2741, 0.28696], ratioTicks, ratioTicks, (v) => v.toFixed(4))} />
          {vLines()}
          <Line dataKey="ema" type="monotone" stroke="#1c1c9c" strokeWidth={1.2} dot={false} connectNulls isAnimationActive={false} />
          <Line dataKey="ratio" type="linear" stroke="#111" strokeWidth={2} dot={false} connectNulls isAnimationActive={false} />
          <ReferenceDot x={97.9} y={0.28013} r={1} ifOverflow="visible" shape={downArrowShape} />
        </ComposedChart>
      </div>
      <PanelBorder top={643} height={90} />
      <LegendRow left={18} cy={648.5} h={11}>
        <Dash color="#000" />
        $RUT:$COMPQ 0.2782
      </LegendRow>
      <LegendRow left={18} cy={660.5} h={11}>
        <Dash color="#1c1c9c" />
        <span style={{ color: '#1c1c9c' }}>EMA(20) 0.2785</span>
      </LegendRow>
    </div>
  );
}
